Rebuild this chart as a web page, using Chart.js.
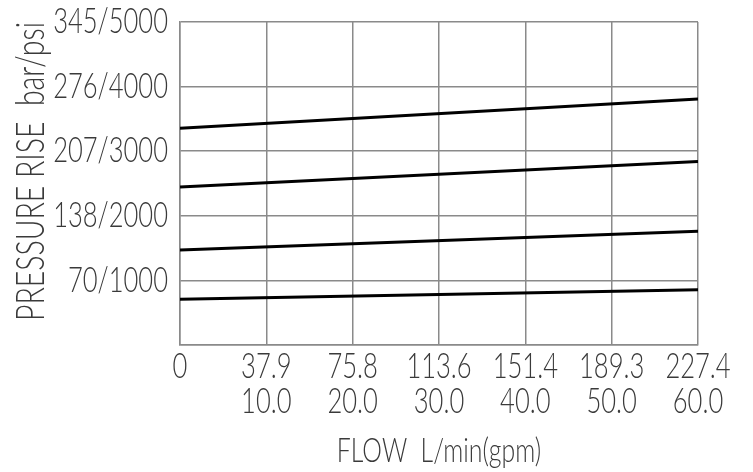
<!DOCTYPE html>
<html>
<head>
<meta charset="utf-8">
<script src="https://cdn.jsdelivr.net/npm/chart.js@4.4.1/dist/chart.umd.min.js"></script>
<style>
  html, body { margin: 0; padding: 0; background: #fff; }
  #wrap { width: 753px; height: 472px; }
</style>
</head>
<body>
<div id="wrap"><canvas id="pressureChart"></canvas></div>
<script>
// flow axis (gpm) with the matching L/min labels
const flowGpm = [0, 60];
const tickGpm = [0, 10, 20, 30, 40, 50, 60];
const tickLpm = ['0', '37.9', '75.8', '113.6', '151.4', '189.3', '227.4'];
const tickGpmText = ['', '10.0', '20.0', '30.0', '40.0', '50.0', '60.0'];

// pressure axis (psi) with the matching bar labels
const tickPsi = [0, 1000, 2000, 3000, 4000, 5000];
const tickBar = ['', '70', '138', '207', '276', '345'];

// pressure rise curves, psi at 0 and 60 gpm
const curve1 = [3355, 3810];
const curve2 = [2445, 2840];
const curve3 = [1470, 1760];
const curve4 = [710, 855];

const cadFont = "Lato, 'DejaVu Sans', sans-serif";
const textColor = '#3a3a3a';
const gridColor = '#8a8a8a';
const textSqueeze = 0.73; // the drawing uses a narrow CAD lettering

function toPoints(vals) {
    return vals.map((v, i) => ({ x: flowGpm[i], y: v }));
}

// squeeze every label horizontally around its anchor point
const condense = {
    id: 'condense',
    beforeDraw(chart) {
        const ctx = chart.ctx;
        if (ctx._condensed) return;
        const fill = ctx.fillText.bind(ctx);
        ctx.fillText = function (text, x, y) {
            ctx.save();
            ctx.translate(x, y);
            ctx.scale(textSqueeze, 1);
            fill(text, 0, 0);
            ctx.restore();
        };
        ctx._condensed = true;
    }
};

const lineStyle = {
    borderColor: '#000',
    borderWidth: 3,
    pointRadius: 0,
    fill: false,
    tension: 0
};

new Chart(document.getElementById('pressureChart'), {
    type: 'line',
    data: {
        datasets: [
            { label: 'c1', data: toPoints(curve1), ...lineStyle },
            { label: 'c2', data: toPoints(curve2), ...lineStyle },
            { label: 'c3', data: toPoints(curve3), ...lineStyle },
            { label: 'c4', data: toPoints(curve4), ...lineStyle }
        ]
    },
    plugins: [condense],
    options: {
        responsive: true,
        maintainAspectRatio: false,
        animation: false,
        layout: { padding: { top: 22, right: 55, left: 0, bottom: 0 } },
        plugins: {
            legend: { display: false },
            tooltip: { enabled: false }
        },
        scales: {
            x: {
                type: 'linear',
                min: 0,
                max: 60,
                afterFit: s => { s.height = 127; },
                afterBuildTicks: s => { s.ticks = tickGpm.map(v => ({ value: v })); },
                ticks: {
                    color: textColor,
                    padding: 4,
                    maxRotation: 0,
                    autoSkip: false,
                    font: { family: cadFont, size: 35, weight: 300, lineHeight: 1.0 },
                    callback: v => {
                        const i = tickGpm.indexOf(v);
                        return i === 0 ? tickLpm[0] : [tickLpm[i], tickGpmText[i]];
                    }
                },
                grid: { color: gridColor, lineWidth: 1.5, drawTicks: false },
                border: { color: gridColor, width: 1.5 },
                title: {
                    display: true,
                    text: 'FLOW  L/min(gpm)',
                    color: textColor,
                    font: { family: cadFont, size: 34, weight: 300, lineHeight: 1.0 },
                    padding: { top: 0, bottom: 4 }
                }
            },
            y: {
                min: 0,
                max: 5000,
                afterFit: s => { s.width = 180; },
                afterBuildTicks: s => { s.ticks = tickPsi.map(v => ({ value: v })); },
                ticks: {
                    color: textColor,
                    padding: 12,
                    font: { family: cadFont, size: 35, weight: 300, lineHeight: 0.5 },
                    callback: v => {
                        const i = tickPsi.indexOf(v);
                        return i === 0 ? '' : tickBar[i] + '/' + v;
                    }
                },
                grid: { color: gridColor, lineWidth: 1.5, drawTicks: false },
                border: { color: gridColor, width: 1.5 },
                title: {
                    display: true,
                    text: 'PRESSURE RISE  bar/psi',
                    align: 'end',
                    color: textColor,
                    font: { family: cadFont, size: 39, weight: 300, lineHeight: 1.0 },
                    padding: { top: 12, bottom: 0 }
                }
            }
        }
    }
});
</script>
</body>
</html>
